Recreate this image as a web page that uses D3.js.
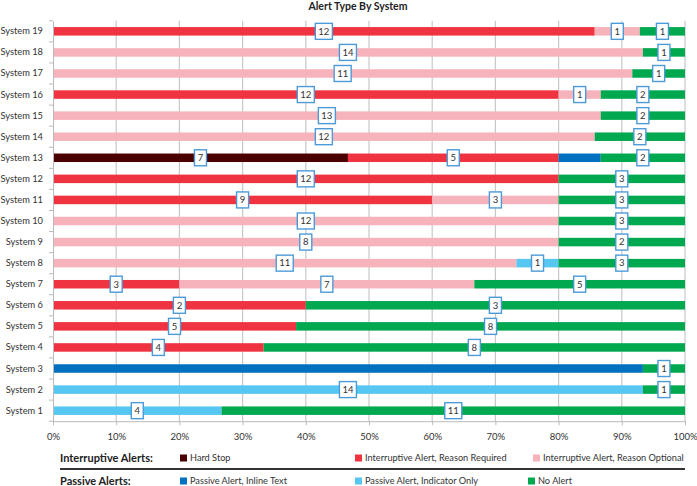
<!DOCTYPE html>
<html><head><meta charset="utf-8">
<script src="https://cdn.jsdelivr.net/npm/d3@7"></script>
<style>body{margin:0;background:#fff;} svg{display:block;font-family:Lato, "Liberation Sans", sans-serif;}</style>
</head><body>
<svg id="c" width="697" height="486"></svg>
<script>
const systems = ["System 19","System 18","System 17","System 16","System 15","System 14","System 13","System 12","System 11","System 10","System 9","System 8","System 7","System 6","System 5","System 4","System 3","System 2","System 1"];
const seriesNames = ["Hard Stop","Interruptive Alert, Reason Required","Interruptive Alert, Reason Optional","Passive Alert, Inline Text","Passive Alert, Indicator Only","No Alert"];
const seriesColors = ["#4a0000","#ef3340","#f7b3bb","#0070c0","#55c7f1","#00a84f"];
const hardStop       = [0,0,0,0,0,0,7,0,0,0,0,0,0,0,0,0,0,0,0];
const reasonRequired = [12,0,0,12,0,0,5,12,9,0,0,0,3,2,5,4,0,0,0];
const reasonOptional = [1,14,11,1,13,12,0,0,3,12,8,11,7,0,0,0,0,0,0];
const inlineText     = [0,0,0,0,0,0,1,0,0,0,0,0,0,0,0,0,14,0,0];
const indicatorOnly  = [0,0,0,0,0,0,0,0,0,0,0,1,0,0,0,0,0,14,4];
const noAlert        = [1,1,1,2,2,2,2,3,3,3,2,3,5,3,8,8,1,1,11];
const xTicks = [0,0.1,0.2,0.3,0.4,0.5,0.6,0.7,0.8,0.9,1];
const hiddenLabelSeries = [3]; // inline text segments carry no data label

const series = [hardStop,reasonRequired,reasonOptional,inlineText,indicatorOnly,noAlert];
const svg = d3.select("#c");
const L = 53, R = 685, T = 20.8, B = 421.2;
const x = d3.scaleLinear().domain([0,1]).range([L,R]);
const y = d3.scaleBand().domain(systems).range([T,B]);
const barH = 8.5;

svg.append("text").attr("x",358).attr("y",10).attr("text-anchor","middle")
  .attr("font-weight","bold").attr("font-size",10.5).attr("fill","#222").text("Alert Type By System");

// gridlines
svg.append("g").selectAll("line").data(xTicks.slice(1)).join("line")
  .attr("x1",d=>x(d)).attr("x2",d=>x(d)).attr("y1",T).attr("y2",B)
  .attr("stroke","#c8c8c8").attr("stroke-width",1.2);

// bars
const rows = systems.map((s,i)=>{
  const vals = series.map(a=>a[i]);
  const tot = d3.sum(vals);
  let acc = 0;
  return vals.map((v,k)=>{const o={sys:s,i,k,v,x0:acc/tot,x1:(acc+v)/tot}; acc+=v; return o;}).filter(d=>d.v>0);
});
const segs = rows.flat();
svg.append("g").selectAll("rect").data(segs).join("rect")
  .attr("x",d=>x(d.x0)).attr("width",d=>x(d.x1)-x(d.x0))
  .attr("y",d=>y(d.sys)+y.bandwidth()/2-barH/2).attr("height",barH)
  .attr("fill",d=>seriesColors[d.k]);

// axes
const yAxis = svg.append("g").attr("transform",`translate(${L},0)`)
  .call(d3.axisLeft(y).tickSize(0).tickPadding(10));
yAxis.select(".domain").attr("stroke","#bbb");
yAxis.selectAll("text").attr("font-size",9.3).attr("fill","#333").attr("font-family","Lato, sans-serif");
svg.append("g").selectAll("line").data(d3.range(systems.length+1)).join("line")
  .attr("x1",L-4).attr("x2",L).attr("y1",d=>T+d*y.step()).attr("y2",d=>T+d*y.step()).attr("stroke","#bbb");

const xAxis = svg.append("g").attr("transform",`translate(0,${B})`)
  .call(d3.axisBottom(x).tickValues(xTicks).tickFormat(d3.format(".0%")).tickSize(4).tickPadding(8));
xAxis.select(".domain").attr("stroke","#bbb");
xAxis.selectAll(".tick line").attr("stroke","#bbb");
xAxis.selectAll("text").attr("font-size",9.5).attr("fill","#333").attr("font-family","Lato, sans-serif");

// labels
const labs = segs.filter(d=>!hiddenLabelSeries.includes(d.k));
const lg = svg.append("g").selectAll("g").data(labs).join("g")
  .attr("transform",d=>`translate(${x((d.x0+d.x1)/2)},${y(d.sys)+y.bandwidth()/2})`);
lg.append("rect").attr("x",d=>String(d.v).length>1?-8.5:-6).attr("width",d=>String(d.v).length>1?17:12)
  .attr("y",-8).attr("height",16).attr("fill","#fff").attr("stroke","#4d9ad8").attr("stroke-width",1.4);
lg.append("text").attr("text-anchor","middle").attr("dy","0.35em").attr("font-size",9.5).attr("fill","#333")
  .text(d=>d.v);

// legend
const lgd = svg.append("g");
lgd.append("text").attr("x",60).attr("y",462).attr("font-weight","bold").attr("font-size",11).attr("fill","#222").text("Interruptive Alerts:");
lgd.append("text").attr("x",60).attr("y",485).attr("font-weight","bold").attr("font-size",11).attr("fill","#222").text("Passive  Alerts:");
lgd.append("line").attr("x1",60).attr("x2",685).attr("y1",469).attr("y2",469).attr("stroke","#333").attr("stroke-width",2.2);
const legendPos = [[180,458],[355,458],[533,458],[180,481],[355,481],[528,481]];
const li = lgd.selectAll("g.li").data(seriesNames).join("g").attr("class","li")
  .attr("transform",(d,i)=>`translate(${legendPos[i][0]},${legendPos[i][1]})`);
li.append("rect").attr("x",0).attr("y",-3.5).attr("width",7).attr("height",7).attr("fill",(d,i)=>seriesColors[i]);
li.append("text").attr("x",10).attr("dy","0.35em").attr("font-size",9.2).attr("fill","#333").text(d=>d);
</script>
</body></html>
